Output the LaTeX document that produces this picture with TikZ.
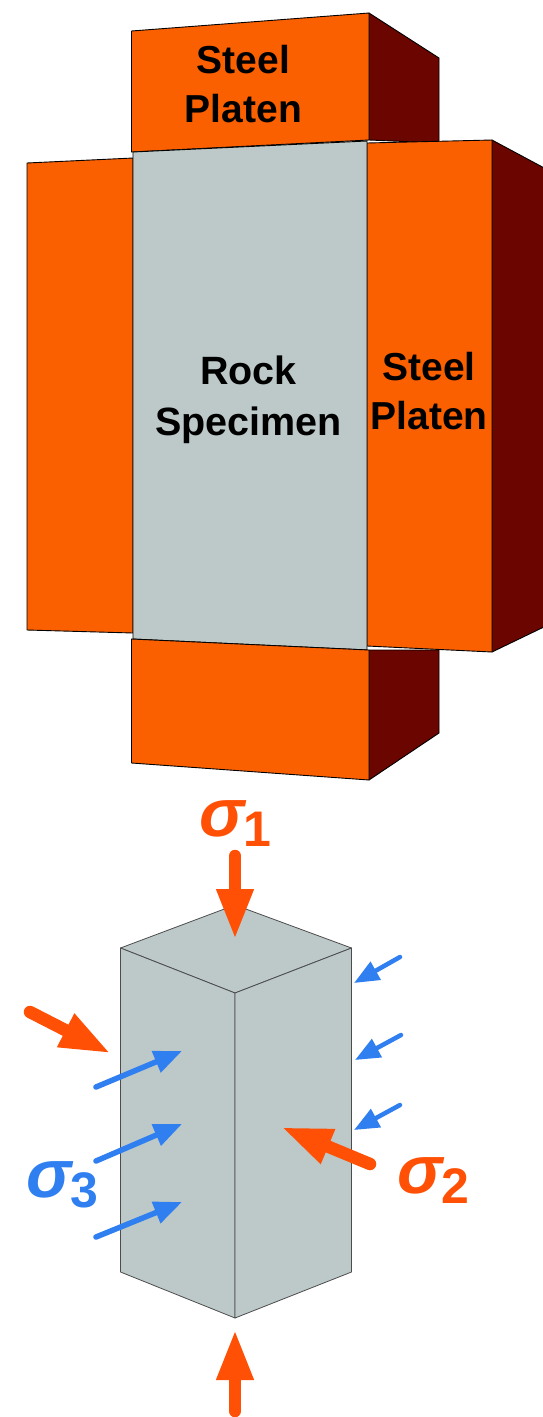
\documentclass[tikz,border=0pt]{standalone}
\usepackage{fontspec}
\setmainfont{Liberation Sans}
\usetikzlibrary{arrows.meta}
\definecolor{platen}{HTML}{FA5F00}
\definecolor{platenside}{HTML}{6A0500}
\definecolor{rock}{HTML}{BDC9C9}
\definecolor{sigorange}{HTML}{FF5005}
\definecolor{sigblue}{HTML}{2F7FF0}
\tikzset{
  front/.style={fill=platen,draw=black,line width=0.9pt,line join=round},
  side/.style={fill=platenside,draw=black,line width=0.9pt,line join=round},
  rockface/.style={fill=rock,draw=black,line width=0.9pt,line join=round},
  blockface/.style={fill=rock,draw=black!70,line width=0.8pt,line join=round},
  bigarrow/.style={draw=sigorange,line width=12.5pt,line cap=round,-{Triangle[length=51pt,width=34pt,sep=0pt]}},
  bluearrow/.style={draw=sigblue,line width=5.5pt,line cap=round,-{Triangle[length=28pt,width=22pt,sep=0pt]}},
  smallarrow/.style={draw=sigblue,line width=4.5pt,line cap=round,-{Triangle[length=25pt,width=20pt,sep=0pt]}},
  platenlabel/.style={font=\bfseries\fontsize{39}{49}\selectfont,align=center,text=black,inner sep=0pt},
  rocklabel/.style={font=\bfseries\fontsize{39.5}{51}\selectfont,align=center,text=black,inner sep=0pt},
  siglabel/.style={inner sep=0pt,anchor=base west}
}
\newcommand{\sigmalabel}[1]{{\fontsize{68}{68}\selectfont\bfseries\itshape σ}\kern-1pt\raisebox{-10pt}{\fontsize{50}{50}\selectfont\bfseries #1}}
\begin{document}
\begin{tikzpicture}[x=1pt,y=-1pt]
\useasboundingbox (0,0) rectangle (543,1417);
\begin{scope}
\clip (0,0) rectangle (543,1417);
% top platen
\draw[side] (369,13) -- (439,58) -- (439,143) -- (369,140) -- cycle;
\draw[front] (131.5,31) -- (369,13) -- (369,140) -- (131.5,152) -- cycle;
% bottom platen
\draw[side] (369,650) -- (439,650) -- (439,733) -- (369,780) -- cycle;
% right platen
\draw[side] (492,140) -- (548,170) -- (548,625) -- (492,652) -- cycle;
\draw[front] (367,143) -- (492,140) -- (492,652) -- (367,646) -- cycle;
% left platen
\draw[front] (27,163) -- (133,158) -- (133,633) -- (27,630) -- cycle;
% specimen
\draw[rockface] (133,152) -- (367,141) -- (367,650) -- (133,639) -- cycle;
\draw[front] (131.5,639) -- (369,650) -- (369,780) -- (131.5,763) -- cycle;
\end{scope}
\node[platenlabel] (toplabel) at (243.5,84) {Steel\\Platen};
\node[rocklabel] (rocklabel) at (248.5,400) {Rock\\Specimen};
\node[platenlabel] (rightlabel) at (429,391) {Steel\\Platen};
% block
\draw[blockface] (235,905) -- (351.5,948) -- (235,993) -- (120.5,948) -- cycle;
\draw[blockface] (120.5,948) -- (235,993) -- (235,1318) -- (120.5,1272) -- cycle;
\draw[blockface] (235,993) -- (351.5,948) -- (351.5,1272) -- (235,1318) -- cycle;
% arrow ends
\coordinate (atop) at (235,856);   \coordinate (atopend) at (235,940);
\coordinate (abot) at (235,1411);  \coordinate (abotend) at (235,1329);
\coordinate (alft) at (30,1012);   \coordinate (alftend) at (111,1053.5);
\coordinate (argt) at (370,1164);  \coordinate (argtend) at (281,1127);
\coordinate (b1) at (96,1087);  \coordinate (b1e) at (182,1051);
\coordinate (b2) at (96,1161);  \coordinate (b2e) at (182,1124);
\coordinate (b3) at (96,1237);  \coordinate (b3e) at (182,1202);
\coordinate (c1) at (400,957);  \coordinate (c1e) at (354,983);
\coordinate (c2) at (401,1035); \coordinate (c2e) at (355,1060);
\coordinate (c3) at (400,1105); \coordinate (c3e) at (354,1130);
\draw[bigarrow] (atop) -- (atopend);
\draw[bigarrow] (abot) -- (abotend);
\draw[bigarrow] (alft) -- (alftend);
\draw[bigarrow] (argt) -- (argtend);
\draw[bluearrow] (b1) -- (b1e);
\draw[bluearrow] (b2) -- (b2e);
\draw[bluearrow] (b3) -- (b3e);
\draw[smallarrow] (c1) -- (c1e);
\draw[smallarrow] (c2) -- (c2e);
\draw[smallarrow] (c3) -- (c3e);
\node[siglabel,text=sigorange] (s1) at (199,836) {\sigmalabel{1}};
\node[siglabel,text=sigorange] (s2) at (397,1193) {\sigmalabel{2}};
\node[siglabel,text=sigblue] (s3) at (26,1197) {\sigmalabel{3}};
\end{tikzpicture}
\end{document}
